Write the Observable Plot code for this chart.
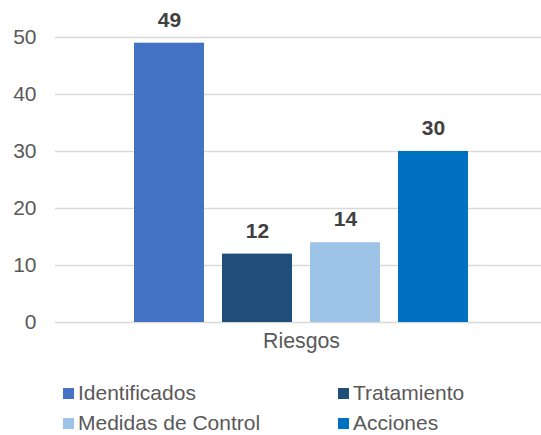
<!DOCTYPE html>
<html>
<head>
<meta charset="utf-8">
<script src="https://cdn.jsdelivr.net/npm/d3@7"></script>
<script src="https://cdn.jsdelivr.net/npm/@observablehq/plot@0.6"></script>
<style>
  body { margin: 0; background: #fff; font-family: "Liberation Sans", Arial, sans-serif; overflow: hidden; }
  #chart svg { display: block; }
  .legend { display: grid; grid-template-columns: 275px 200px; row-gap: 10px; padding-left: 63px; margin-top: 23px; }
  .legend .item { display: flex; align-items: center; height: 20px; line-height: 20px; font-size: 21px; color: #595959; }
  .legend .sw { width: 11px; height: 11px; margin-right: 4px; flex: none; }
</style>
</head>
<body>
<div id="chart"></div>
<script>
const category = "Riesgos";
const series = ["Identificados", "Tratamiento", "Medidas de Control", "Acciones"];
const values = [49, 12, 14, 30];
const colors = ["#4472C4", "#1F4E79", "#9DC3E6", "#0070C0"];
const yTicks = [0, 10, 20, 30, 40, 50];

const data = series.map((s, i) => ({ serie: s, value: values[i], category }));

const chart = Plot.plot({
  width: 541,
  height: 360,
  marginLeft: 55,
  marginRight: 0,
  marginTop: 37,
  marginBottom: 38,
  style: { fontFamily: "Liberation Sans, Arial, sans-serif", fontSize: "21px", color: "#595959", background: "#fff" },
  x: { domain: series, insetLeft: 77, insetRight: 71, paddingInner: 0.2022, paddingOuter: 0, axis: null },
  y: { domain: [0, 50], ticks: yTicks, label: null },
  color: { domain: series, range: colors },
  marks: [
    Plot.ruleY(yTicks, { stroke: "#D9D9D9", strokeWidth: 1.3 }),
    Plot.axisY(yTicks, { tickSize: 0, tickPadding: 19, label: null, fontSize: 21, fill: "#595959" }),
    Plot.barY(data, { x: "serie", y: "value", fill: "serie" }),
    Plot.text(data, { x: "serie", y: "value", text: d => String(d.value), dy: -23, fontWeight: "bold", fontSize: 21, fill: "#404040" }),
    Plot.text([category], { frameAnchor: "bottom", text: d => d, dx: 3, dy: 25, fontSize: 21.3, fill: "#595959" })
  ]
});
document.getElementById("chart").appendChild(chart);

const legend = document.createElement("div");
legend.className = "legend";
series.forEach((s, i) => {
  const item = document.createElement("div");
  item.className = "item";
  const sw = document.createElement("span");
  sw.className = "sw";
  sw.style.background = colors[i];
  const t = document.createElement("span");
  t.textContent = s;
  item.appendChild(sw);
  item.appendChild(t);
  legend.appendChild(item);
});
document.body.appendChild(legend);
</script>
</body>
</html>
